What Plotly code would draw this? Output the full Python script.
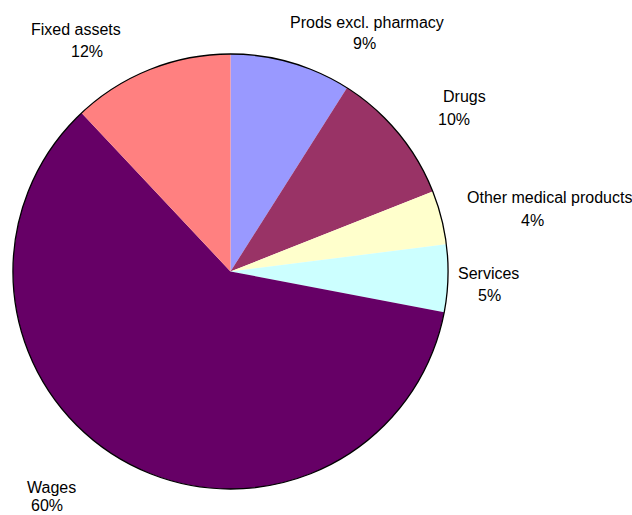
import plotly.graph_objects as go

# Cost structure shares (percent), clockwise from 12 o'clock
categories = ["Prods excl. pharmacy", "Drugs", "Other medical products",
              "Services", "Wages", "Fixed assets"]
shares = [9, 10, 4, 5, 60, 12]
colors = ["#9999FF", "#993366", "#FFFFCC", "#CCFFFF", "#660066", "#FF8080"]

# Label placement (pixel centres of the name line and the percent line)
name_pos = [(367, 22), (464, 97), (549, 197), (488, 273), (51, 487), (76, 29)]
pct_pos = [(364, 43), (454, 119), (532, 220), (489, 295), (47, 505), (87, 51)]

W, H = 632, 515
cx, cy, r = 230.5, 271.5, 217.5
dom_x = [(cx - r) / W, (cx + r) / W]
dom_y = [1 - (cy + r) / H, 1 - (cy - r) / H]

fig = go.Figure()
fig.add_trace(go.Pie(
    labels=categories, values=shares, sort=False, direction="clockwise",
    rotation=0, marker=dict(colors=colors, line=dict(width=0)),
    textinfo="none", hoverinfo="label+percent", showlegend=False,
    domain=dict(x=dom_x, y=dom_y),
))
# Outer rim drawn as a single transparent slice with a black edge
fig.add_trace(go.Pie(
    values=[1], marker=dict(colors=["rgba(0,0,0,0)"], line=dict(color="black", width=1.3)),
    textinfo="none", hoverinfo="skip", showlegend=False, sort=False,
    domain=dict(x=dom_x, y=dom_y),
))

font = dict(family="Liberation Sans, Arial, sans-serif", size=16, color="black")
annotations = []
for name, v, (nx, ny), (px, py) in zip(categories, shares, name_pos, pct_pos):
    annotations.append(dict(text=name, x=nx / W, y=1 - ny / H, xref="paper", yref="paper",
                            showarrow=False, xanchor="center", yanchor="middle", font=font))
    annotations.append(dict(text=f"{v}%", x=px / W, y=1 - py / H, xref="paper", yref="paper",
                            showarrow=False, xanchor="center", yanchor="middle", font=font))

fig.update_layout(
    width=W, height=H, margin=dict(l=0, r=0, t=0, b=0),
    paper_bgcolor="white", plot_bgcolor="white",
    annotations=annotations,
)
fig.write_html("out.html")
